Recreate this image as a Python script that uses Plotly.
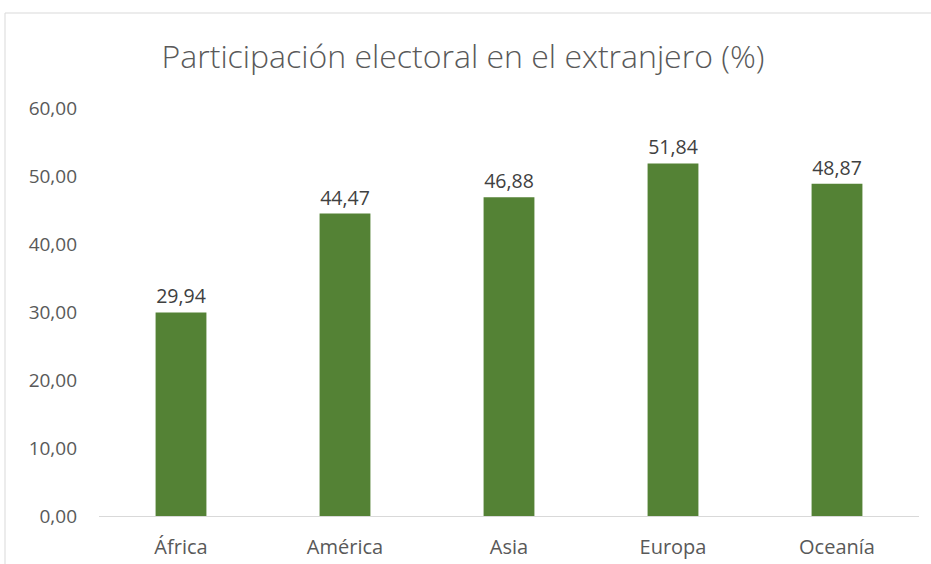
import plotly.graph_objects as go

categories = ["África", "América", "Asia", "Europa", "Oceanía"]
values = [29.94, 44.47, 46.88, 51.84, 48.87]
tick_vals = [0, 10, 20, 30, 40, 50, 60]
tick_text = ["0,00", "10,00", "20,00", "30,00", "40,00", "50,00", "60,00"]
labels = [f"{v:.2f}".replace(".", ",") for v in values]

W, H = 931, 564
L, R, T, B = 99, 12, 108, 48
pw, ph = W - L - R, H - T - B
FONT = "Open Sans"

fig = go.Figure(go.Bar(
    x=categories, y=values, width=0.31,
    marker=dict(color="#548235", line=dict(width=0)),
    text=labels, textposition="outside", cliponaxis=False,
    textfont=dict(color="#404040", size=19.5, family=FONT),
))

fig.update_layout(
    width=W, height=H,
    margin=dict(l=L, r=R, t=T, b=B, autoexpand=False),
    paper_bgcolor="white", plot_bgcolor="white",
    title=dict(text="Participación electoral en el extranjero (%)",
               x=(163 + 763) / 2 / W, xanchor="center", y=1 - 57 / H, yanchor="middle",
               font=dict(size=32, color="#595959", family=FONT, weight=300)),
    font=dict(family=FONT, color="#595959", size=18),
    showlegend=False,
)
fig.update_xaxes(showgrid=False, showline=True, linecolor="#d9d9d9", linewidth=1,
                 ticks="", automargin=False,
                 tickfont=dict(size=20, color="#595959"), ticklabelstandoff=13)
fig.update_yaxes(range=[0, 60], tickvals=tick_vals, ticktext=tick_text, showgrid=False,
                 zeroline=False, showline=False, ticks="", automargin=False,
                 tickfont=dict(size=19, color="#595959"), ticklabelstandoff=21)

fig.add_shape(type="rect", xref="paper", yref="paper",
              x0=(5 - L) / pw, x1=(W + 10 - L) / pw,
              y0=-(B + 20) / ph, y1=1 + (T - 13) / ph,
              line=dict(color="#d9d9d9", width=1), fillcolor="rgba(0,0,0,0)", layer="below")

fig.write_html("out.html", config={"displayModeBar": False},
               post_script="document.body.style.margin='0';document.body.style.overflow='hidden';")
